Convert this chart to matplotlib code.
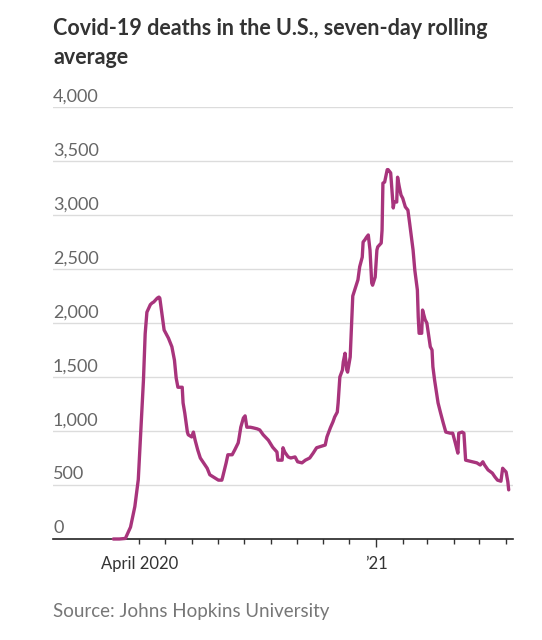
import matplotlib
matplotlib.use("Agg")
import matplotlib.pyplot as plt
import matplotlib.dates as mdates
import matplotlib.ticker as mticker
import pandas as pd

# ---- data ----
# days since 2020-04-01 and seven-day rolling average of deaths
days = [-30, -23, -16, -10, -5, -1, 2, 5, 7, 9,
        13, 15, 17, 21, 23, 24, 27, 29, 34, 38,
        41, 43, 45, 50, 51, 53, 56, 57, 61, 63,
        65, 68, 71, 74, 79, 82, 88, 92, 96, 97,
        101, 103, 108, 111, 115, 116, 118, 121, 123, 125,
        129, 132, 137, 140, 144, 150, 155, 160, 161, 166,
        167, 169, 173, 176, 181, 184, 189, 193, 198, 202,
        206, 212, 216, 218, 222, 225, 227, 230, 231, 233,
        236, 237, 239, 241, 242, 245, 248, 251, 254, 256,
        259, 260, 262, 264, 266, 268, 270, 271, 274, 276,
        277, 281, 282, 283, 285, 288, 289, 292, 294, 295,
        296, 299, 300, 302, 304, 306, 309, 312, 314, 318,
        320, 323, 324, 325, 328, 329, 332, 334, 338, 340,
        341, 343, 346, 347, 350, 353, 356, 361, 364, 367,
        369, 370, 371, 375, 377, 379, 384, 387, 392, 396,
        399, 401, 405, 410, 413, 416, 420, 422, 426, 428,
        429]
deaths = [0, 0, 5, 110, 300, 550, 1010, 1470, 1900, 2100,
          2170, 2185, 2195, 2230, 2240, 2230, 2055, 1935, 1860, 1780,
          1655, 1490, 1405, 1405, 1260, 1165, 990, 965, 945, 990,
          915, 825, 750, 715, 655, 595, 565, 545, 545, 575,
          705, 780, 780, 825, 890, 935, 1035, 1120, 1140, 1035,
          1035, 1030, 1020, 1010, 965, 915, 850, 805, 730, 730,
          845, 805, 760, 750, 760, 715, 705, 730, 750, 795,
          845, 860, 870, 945, 1030, 1085, 1130, 1175, 1260, 1500,
          1565, 1640, 1720, 1565, 1545, 1685, 2250, 2325, 2400, 2520,
          2610, 2750, 2770, 2795, 2815, 2675, 2370, 2350, 2425, 2675,
          2705, 2740, 2860, 3295, 3305, 3420, 3420, 3390, 3165, 3065,
          3120, 3120, 3350, 3260, 3185, 3155, 3075, 3045, 2925, 2675,
          2490, 2305, 2055, 1905, 1905, 2120, 2030, 2000, 1780, 1750,
          1595, 1470, 1315, 1260, 1165, 1075, 990, 980, 980, 890,
          825, 795, 980, 990, 980, 730, 720, 715, 705, 685,
          715, 685, 640, 610, 575, 545, 535, 655, 620, 530,
          455]

y_ticks = [0, 500, 1000, 1500, 2000, 2500, 3000, 3500, 4000]
y_tick_labels = ["0", "500", "1,000", "1,500", "2,000", "2,500", "3,000", "3,500", "4,000"]
x_major_dates = ["2020-04-01", "2021-01-01"]
x_major_labels = ["April 2020", "\u201921"]
x_month_ticks = pd.date_range("2020-04-01", "2021-06-01", freq="MS")

title_lines = ["Covid-19 deaths in the U.S., seven-day rolling", "average"]
source = "Source: Johns Hopkins University"

LINE = "#a8347c"
BASE = pd.Timestamp("2020-04-01")

plt.rcParams["font.family"] = ["Lato", "DejaVu Sans"]

fig = plt.figure(figsize=(5.42, 6.40), dpi=100)
ax = fig.add_axes([53 / 542, 1 - 539 / 640, (513 - 53) / 542, (539 - 107) / 640])

dates = BASE + pd.to_timedelta(days, unit="D")
ax.plot(dates, deaths, color=LINE, lw=2.4, solid_joinstyle="round",
        solid_capstyle="round", clip_on=False, zorder=3)

ax.set_xlim(BASE + pd.Timedelta(days=-100), BASE + pd.Timedelta(days=434))
ax.set_ylim(0, 4000)

# horizontal gridlines + labels sitting above them
for v, lab in zip(y_ticks, y_tick_labels):
    if v > 0:
        ax.axhline(v, color="#dcdcdc", lw=1.0, zorder=1)
    ax.annotate(lab, xy=(0, v), xycoords=("axes fraction", "data"),
                xytext=(0, 4), textcoords="offset points",
                ha="left", va="baseline", fontsize=13, color="#666666")
ax.set_yticks([])

for s in ["left", "right", "top"]:
    ax.spines[s].set_visible(False)
ax.spines["bottom"].set_color("#222222")
ax.spines["bottom"].set_linewidth(1.2)

ax.xaxis.set_minor_locator(mticker.FixedLocator(mdates.date2num(x_month_ticks)))
ax.set_xticks(pd.to_datetime(x_major_dates))
ax.set_xticklabels(x_major_labels)
ax.tick_params(axis="x", which="both", direction="out", color="#333333",
               width=1.0, length=3.5)
ax.tick_params(axis="x", which="major", pad=9, labelsize=12, labelcolor="#333333")
ax.xaxis.get_major_ticks()[1].tick1line.set_markersize(6)

fig.text(53 / 542, 1 - 35 / 640, title_lines[0], fontsize=15.5, fontweight="bold",
         color="#333333", ha="left", va="baseline")
fig.text(53 / 542, 1 - 64 / 640, title_lines[1], fontsize=15.5, fontweight="bold",
         color="#333333", ha="left", va="baseline")
fig.text(53 / 542, 1 - 617 / 640, source, fontsize=13.5, color="#777777",
         ha="left", va="baseline")

fig.savefig("out.png", dpi=100, facecolor="white")
